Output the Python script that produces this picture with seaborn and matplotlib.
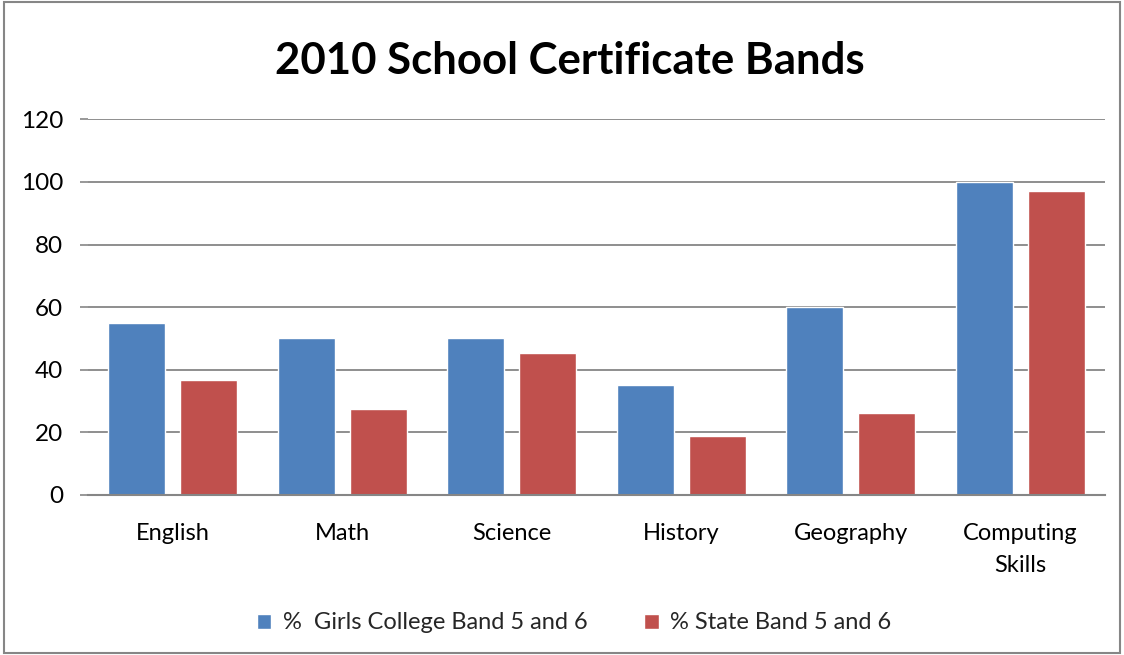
import matplotlib
matplotlib.use("Agg")
import matplotlib.pyplot as plt
import seaborn as sns
import pandas as pd
from matplotlib.patches import Rectangle

categories = ["English", "Math", "Science", "History", "Geography", "Computing\nSkills"]
girls_college = [55, 50, 50, 35.2, 60, 100]
state = [36.6, 27.6, 45.4, 18.7, 26.3, 97.2]
series_names = ["%  Girls College Band 5 and 6", "% State Band 5 and 6"]
yticks = [0, 20, 40, 60, 80, 100, 120]

df = pd.DataFrame({
    "Subject": categories * 2,
    "Value": girls_college + state,
    "Series": [series_names[0]] * len(categories) + [series_names[1]] * len(categories),
})

sns.set_theme(style="white")
plt.rcParams["font.family"] = ["Lato", "DejaVu Sans"]

fig = plt.figure(figsize=(11.24, 6.55), dpi=100)
ax = fig.add_axes([0.0783, 0.2443, 0.9047, 0.5736])

palette = ["#4F81BD", "#C0504D"]
sns.barplot(data=df, x="Subject", y="Value", hue="Series", palette=palette,
            width=0.85, gap=0.21, ax=ax, saturation=1, legend=True)

ax.set_ylim(0, 120)
ax.set_xlim(-0.5, len(categories) - 0.5)
ax.set_yticks(yticks)
ax.set_yticklabels([str(t) for t in yticks], fontsize=17.5, color="#000000")
ax.tick_params(axis="y", length=6, width=1.2, color="#868686", pad=12, left=True)
ax.tick_params(axis="x", length=0, pad=20, labelsize=17)
for lbl in ax.get_xticklabels():
    lbl.set_color("#000000")
    lbl.set_linespacing(1.65)
ax.set_xlabel("")
ax.set_ylabel("")
ax.yaxis.grid(True, color="#868686", linewidth=1.3)
ax.set_axisbelow(True)
for s in ["top", "right", "left"]:
    ax.spines[s].set_visible(False)
ax.spines["bottom"].set_color("#868686")
ax.spines["bottom"].set_linewidth(1.5)

fig.text(0.507, 0.907, "2010 School Certificate Bands", ha="center", va="center",
         fontsize=31.5, fontweight="bold", color="#000000")

handles, labels = ax.get_legend_handles_labels()
ax.legend_.remove()
fig.legend(handles, labels, loc="center", bbox_to_anchor=(0.511, 0.049), ncol=2,
           frameon=False, fontsize=17, handlelength=0.6, handleheight=0.6,
           handletextpad=0.5, columnspacing=2.4)

fig.patches.append(Rectangle((0.004, 0.003), 0.992, 0.994, transform=fig.transFigure,
                             fill=False, edgecolor="#868686", linewidth=1.5))

fig.savefig("out.png", dpi=100, facecolor="white")
